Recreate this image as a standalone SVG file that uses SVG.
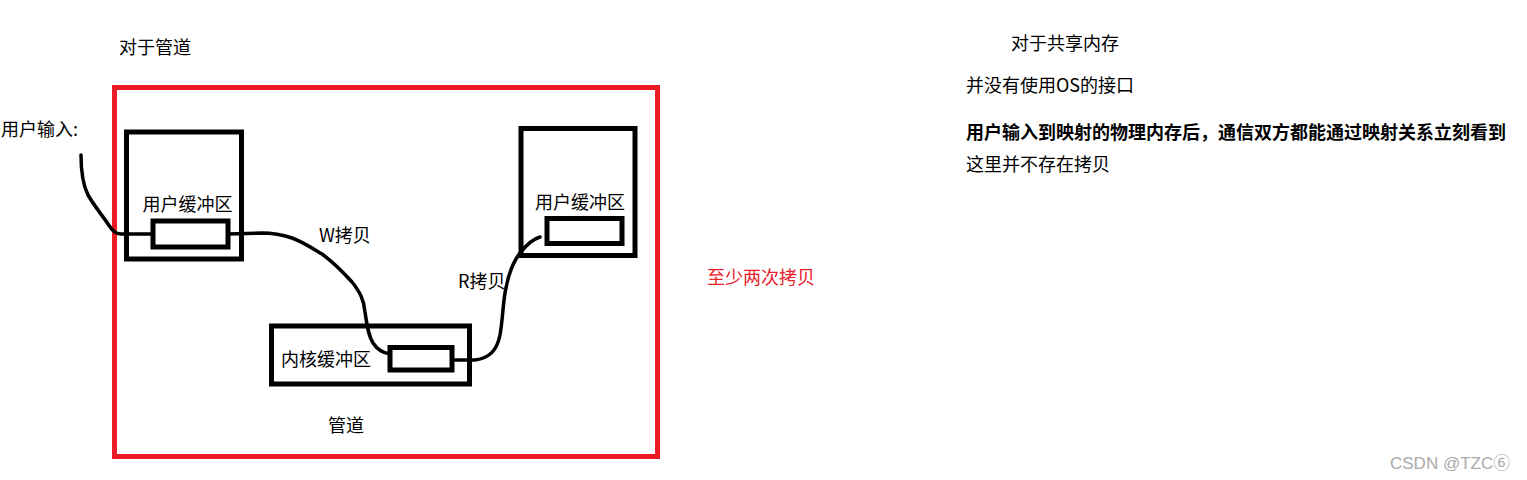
<svg xmlns="http://www.w3.org/2000/svg" width="1527" height="480" viewBox="0 0 1527 480">
<style>
text{font-family:"Noto Sans CJK SC","Microsoft YaHei",sans-serif;font-size:18px;fill:#000}
.box{fill:none;stroke:#000;stroke-width:5}
.wire{fill:none;stroke:#000;stroke-width:3.5;stroke-linecap:round;stroke-linejoin:round}
.red{fill:#e8202a}
.bold{font-weight:bold}
.wm{font-family:"Liberation Sans",Arial,"Noto Sans CJK SC",sans-serif;font-size:17px;fill:#aaaaaa}
</style>
<rect width="1527" height="480" fill="#fff"/>
<g id="pipe-frame">
<rect x="114.5" y="87.5" width="543" height="369" fill="none" stroke="#ed1c24" stroke-width="5"/>
<text x="328" y="432">管道</text>
</g>
<text x="119" y="54">对于管道</text>
<text x="1" y="136">用户输入:</text>
<g id="user-buffer-left">
<rect class="box" x="126.5" y="132" width="115" height="127"/>
<text x="142.5" y="211">用户缓冲区</text>
<rect class="box" x="153" y="221" width="75" height="26"/>
</g>
<g id="user-buffer-right">
<rect class="box" x="521" y="128.5" width="114" height="127"/>
<text x="535" y="209">用户缓冲区</text>
<rect class="box" x="547" y="218.5" width="75" height="25"/>
</g>
<g id="kernel-buffer">
<rect class="box" x="271.5" y="326" width="198" height="58"/>
<text x="281" y="366">内核缓冲区</text>
<rect class="box" x="390" y="347.5" width="62" height="22.5"/>
</g>
<g id="connectors">
<path class="wire" d="M81,155 C81,170 83,185 88,195 C95,207 102,215 108,224 C112,230 115,234 121,234 L153,234"/>
<path class="wire" d="M228,234 L262,233 C275,233 283,235 292,238 C303,242 312,248 322,254 C333,262 343,272 352,282 C360,292 364,300 365,312 C367,325 368,335 373,343 C377,349 382,353 390,354"/>
<path class="wire" d="M452,360 L475,360 C490,358 497,350 500,335 C503,318 503,300 506,288 C509,272 513,262 520,253 C527,244 533,239 540,237"/>
<text x="319" y="242">W拷贝</text>
<text x="458" y="288">R拷贝</text>
</g>
<text class="red" x="707" y="284">至少两次拷贝</text>
<text x="1011" y="50">对于共享内存</text>
<text x="966" y="92">并没有使用OS的接口</text>
<text class="bold" x="966" y="139">用户输入到映射的物理内存后，通信双方都能通过映射关系立刻看到</text>
<text x="966" y="171">这里并不存在拷贝</text>
<text class="wm" x="1390" y="469">CSDN @TZC⑥</text>
</svg>
